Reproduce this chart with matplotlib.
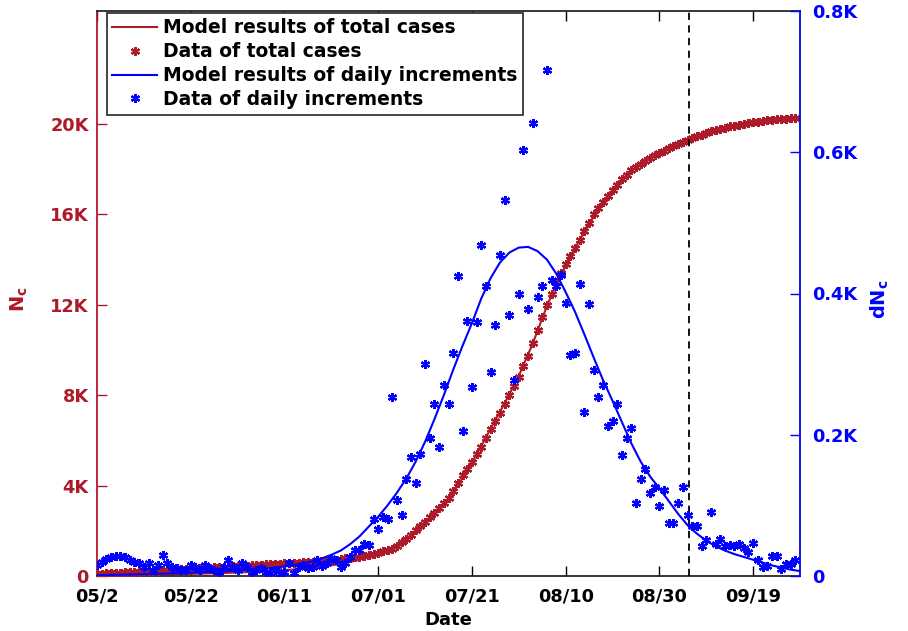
import numpy as np
import matplotlib
matplotlib.use('Agg')
import matplotlib.pyplot as plt

plt.rcParams['font.family'] = ['DejaVu Sans']
plt.rcParams['font.weight'] = 'bold'
plt.rcParams['mathtext.fontset'] = 'dejavusans'

RED = '#AD1A2A'
BLUE = '#0000FF'

# ---------------- data ----------------
tick_days = [0, 20, 40, 60, 80, 100, 120, 140]
tick_labels = ['05/2', '05/22', '06/11', '07/01', '07/21', '08/10', '08/30', '09/19']
left_ticks = [0, 4000, 8000, 12000, 16000, 20000]
left_labels = ['0', '4K', '8K', '12K', '16K', '20K']
right_ticks = [0, 200, 400, 600, 800]
right_labels = ['0', '0.2K', '0.4K', '0.6K', '0.8K']
cutoff_day = 126.3

# daily increments (data), day 0 = 05/02
daily_data = [
    16, 20, 24, 27, 28, 28, 27, 23, 20, 18,
    13, 18, 8, 16, 30, 18, 13, 11, 9, 9,
    16, 13, 9, 16, 11, 9, 6, 13, 23, 13,
    9, 18, 13, 6, 9, 11, 6, 4, 8, 3,
    5, 18, 4, 13, 16, 11, 13, 23, 14, 18,
    25, 23, 13, 18, 27, 37, 37, 46, 44, 81,
    67, 84, 81, 254, 107, 87, 137, 169, 131, 173,
    300, 195, 244, 183, 271, 244, 316, 425, 206, 361,
    267, 360, 469, 411, 289, 355, 454, 533, 370, 278,
    400, 603, 378, 642, 395, 411, 716, 419, 410, 426,
    387, 313, 316, 414, 232, 385, 292, 253, 271, 213,
    220, 243, 171, 195, 209, 103, 137, 152, 117, 126,
    99, 122, 75, 75, 103, 126, 87, 71, 71, 43,
    51, 91, 46, 53, 42, 44, 42, 46, 39, 34,
    47, 23, 13, 14, 29, 29, 10, 17, 17, 23,
]

# total cases (data)
total_data = [
    100, 110, 120, 130, 140, 150, 160, 170, 180, 190,
    200, 213, 226, 239, 252, 265, 278, 291, 304, 317,
    330, 341, 352, 363, 374, 385, 396, 407, 418, 429,
    440, 452, 464, 476, 488, 500, 512, 524, 536, 548,
    560, 572, 584, 596, 608, 620, 636, 652, 668, 684,
    700, 725, 750, 775, 800, 830, 860, 895, 930, 980,
    1030, 1085, 1140, 1200, 1340, 1490, 1650, 1830, 2020, 2210,
    2400, 2600, 2800, 3010, 3230, 3450, 3770, 4100, 4450, 4750,
    5050, 5380, 5700, 6100, 6500, 6850, 7200, 7600, 8000, 8400,
    8800, 9270, 9750, 10320, 10900, 11450, 12000, 12500, 13000, 13400,
    13800, 14150, 14500, 14870, 15250, 15620, 16000, 16280, 16550, 16820,
    17100, 17320, 17550, 17750, 17950, 18100, 18250, 18380, 18500, 18610,
    18720, 18820, 18920, 19010, 19100, 19200, 19300, 19380, 19450, 19530,
    19600, 19670, 19740, 19790, 19840, 19890, 19930, 19970, 20010, 20045,
    20080, 20105, 20130, 20155, 20180, 20200, 20220, 20240, 20260, 20280,
]

# model of total cases, sampled every 3 days (day 0 .. 150)
model_total_days = list(range(0, 151, 3))
model_total = [
    40, 45, 50, 57, 65, 75, 86, 100, 115, 133,
    155, 180, 210, 245, 290, 345, 415, 505, 620, 780,
    990, 1270, 1640, 2110, 2700, 3430, 4330, 5380, 6520, 7650,
    8850, 10300, 11950, 13350, 14500, 15600, 16520, 17300, 17930, 18380,
    18730, 19020, 19280, 19500, 19690, 19840, 19960, 20060, 20140, 20200,
    20250,
]

# model of daily increments, sampled every 2 days (day 0 .. 150)
model_daily_days = list(range(0, 151, 2))
model_daily = [
    1, 1.3, 1.6, 2, 2.3, 2.7, 3, 3.4, 3.8, 4.2,
    4.7, 5.2, 5.7, 6.3, 7, 7.7, 8.6, 9.6, 10.7, 12,
    13.5, 15.5, 18, 21, 25, 30, 36, 45, 56, 70,
    84, 100, 118, 138, 162, 190, 222, 256, 292, 326,
    358, 393, 422, 444, 458, 465, 466, 460, 448, 428,
    402, 374, 342, 309, 277, 248, 218, 188, 162, 141,
    124, 106, 88, 72, 60, 50, 42, 36, 31, 27,
    23, 19, 15, 12, 9, 7,
]

days = np.arange(len(daily_data))

# ---------------- figure ----------------
W, H = 908, 631
fig = plt.figure(figsize=(W / 100, H / 100), dpi=100)
ax1 = fig.add_axes([97 / W, 55 / H, 703 / W, 565 / H])
ax2 = ax1.twinx()

star = (6, 2, 0)
l1, = ax1.plot(model_total_days, model_total, color=RED, lw=1.5, zorder=2)
p1, = ax1.plot(days, total_data, ls='none', marker=star, ms=6.5, mew=1.6,
               color=RED, zorder=3)
l2, = ax2.plot(model_daily_days, model_daily, color=BLUE, lw=1.5, zorder=2)
p2, = ax2.plot(days, daily_data, ls='none', marker=star, ms=6.5, mew=1.6,
               color=BLUE, zorder=3)
ax2.axvline(cutoff_day, color='black', ls=(0, (4, 3)), lw=1.3, zorder=1)

ax1.set_xlim(0, 150)
ax1.set_ylim(0, 25000)
ax2.set_ylim(0, 800)

ax1.set_xticks(tick_days)
ax1.set_xticklabels(tick_labels)
ax1.set_yticks(left_ticks)
ax1.set_yticklabels(left_labels)
ax2.set_yticks(right_ticks)
ax2.set_yticklabels(right_labels)

ax1.tick_params(axis='x', direction='in', top=True, length=7, width=1,
                labelsize=12.8, pad=8, colors='black')
ax1.tick_params(axis='y', direction='in', length=7, width=1,
                labelsize=12.8, pad=6, colors=RED)
ax2.tick_params(axis='y', direction='in', length=7, width=1,
                labelsize=12.8, pad=9, colors=BLUE)

for ax in (ax1, ax2):
    for s in ax.spines.values():
        s.set_linewidth(1.3)
ax1.spines['left'].set_color(RED)
ax1.spines['right'].set_visible(False)
ax1.spines['top'].set_color('#262626')
ax1.spines['bottom'].set_color('#262626')
ax2.spines['left'].set_visible(False)
ax2.spines['right'].set_color(BLUE)
ax2.spines['top'].set_visible(False)
ax2.spines['bottom'].set_visible(False)

ax1.set_xlabel('Date', fontsize=13, fontweight='bold')
ax1.xaxis.set_label_coords(0.5, -0.062)
ax1.text(-0.11, 0.49, r'$\mathbf{N}_{\mathbf{c}}$', transform=ax1.transAxes,
         rotation=90, ha='center', va='center', color=RED, fontsize=14)
ax1.text(1.114, 0.49, r'$\mathbf{dN}_{\mathbf{c}}$', transform=ax1.transAxes,
         rotation=90, ha='center', va='center', color=BLUE, fontsize=14)

leg = ax2.legend([l1, p1, l2, p2],
                 ['Model results of total cases', 'Data of total cases',
                  'Model results of daily increments', 'Data of daily increments'],
                 loc='upper left', bbox_to_anchor=(0.014, 0.997), borderaxespad=0,
                 fancybox=False, edgecolor='#262626', framealpha=1, numpoints=1,
                 handlelength=2.4, handletextpad=0.3, labelspacing=0.26,
                 borderpad=0.3, prop={'weight': 'bold', 'size': 13.5})
leg.get_frame().set_linewidth(1.2)

fig.savefig('out.png', dpi=100)
